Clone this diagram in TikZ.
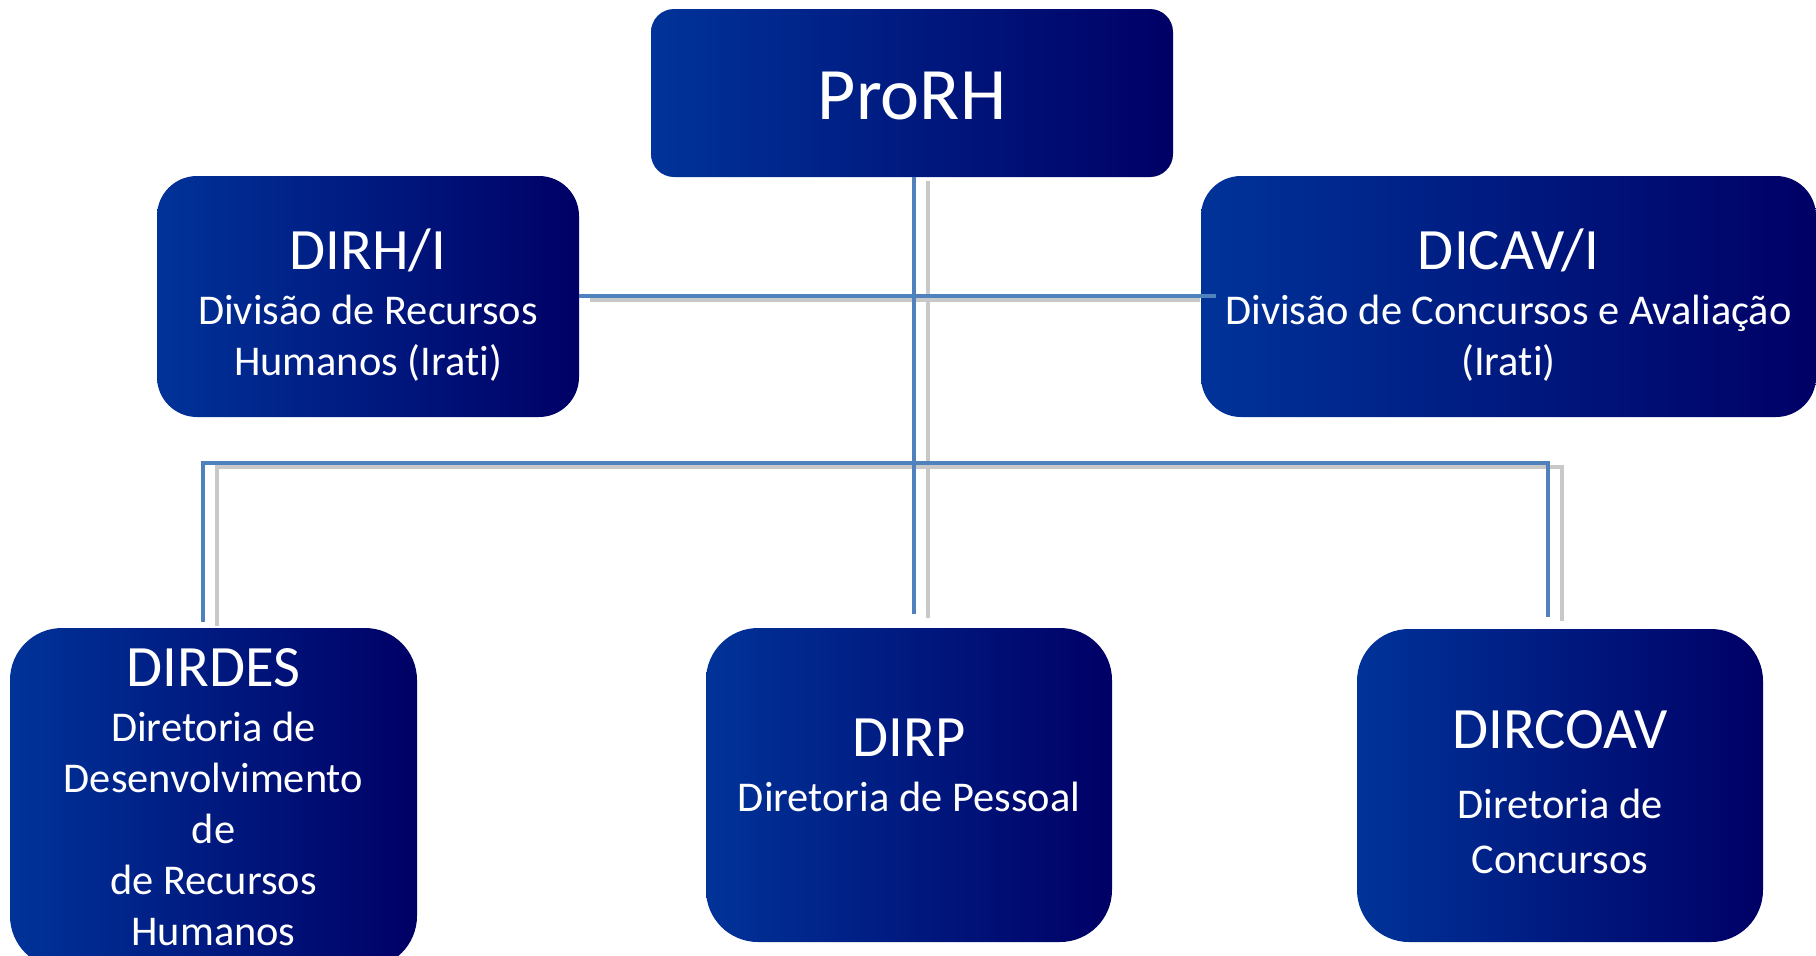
\documentclass[tikz,border=0pt]{standalone}
\usepackage{fontspec}
\setmainfont{Carlito}[Ligatures=NoCommon]
\usepackage{tikz}
\usetikzlibrary{positioning}
\usepackage{xcolor}

\definecolor{boxleft}{RGB}{0,51,153}
\definecolor{boxright}{RGB}{0,0,102}
\definecolor{linkblue}{RGB}{79,129,189}
\definecolor{linkgray}{RGB}{200,200,200}

\newcommand{\unittitle}{\fontsize{29.3}{34}\selectfont}
\newcommand{\unitsub}{\fontsize{21.2}{25.5}\selectfont}

\tikzset{
	unitbox/.style={inner sep=0pt, left color=boxleft, right color=boxright},
	unittext/.style={text=white, align=center, inner sep=0pt, anchor=north, font=\unitsub},
	linkline/.style={draw=linkblue, line width=2pt},
	linkshade/.style={draw=linkgray, line width=2pt}
}

\begin{document}
\begin{tikzpicture} [x=0.5pt, y=-0.5pt]
					\useasboundingbox (0, 0) rectangle (1816, 955);
					\clip (0, 0) rectangle (1816, 955);

					% boxes
					\node [unitbox, rounded corners=11.5pt, minimum width=261pt, minimum height=84pt] (prorh) at (912, 93) {};
					\node [unitbox, rounded corners=20pt, minimum width=211pt, minimum height=120.5pt] (dirhi) at (368, 296.5) {};
					\node [unitbox, rounded corners=20pt, minimum width=307.5pt, minimum height=120.5pt] (dicavi) at (1508.5, 296.5) {};
					\node [unitbox, rounded corners=26pt, minimum width=203.5pt, minimum height=170pt] (dirdes) at (213.5, 798) {};
					\node [unitbox, rounded corners=26pt, minimum width=203pt, minimum height=157pt] (dirp) at (909, 785) {};
					\node [unitbox, rounded corners=26pt, minimum width=203pt, minimum height=156.5pt] (dircoav) at (1560, 785.5) {};

					\coordinate (stem-t) at (914, 177);
					\coordinate (stem-b) at (914, 614);
					\coordinate (mid-r) at (1216, 296);
					\coordinate (drop-l) at (203, 622);
					\coordinate (bus-l) at (203, 463);
					\coordinate (bus-r) at (1548, 463);
					\coordinate (drop-r) at (1548, 617);

					% grey shade behind the links
					\draw [linkshade] (590, 300)--(1200, 300);
					\draw [linkshade] ([xshift=7pt, yshift=-2pt]stem-t)--([xshift=7pt, yshift=-2pt]stem-b);
					\draw [linkshade] ([xshift=7pt, yshift=-2pt]drop-l)--([xshift=7pt, yshift=-2pt]bus-l)--([xshift=7pt, yshift=-2pt]bus-r)--([xshift=7pt, yshift=-2pt]drop-r);

					% links
					\draw [linkline] (prorh.south -| stem-b)--(stem-b);
					\draw [linkline] (dirhi.east |- mid-r)--(mid-r);
					\draw [linkline] (drop-l)--(bus-l)--(bus-r)--(drop-r);

					% texts
					\node [unittext, font=\fontsize{37}{44}\selectfont] (prorh-t) at (912, 72) {ProRH};
					\node [unittext] (dirhi-t) at (368, 228) {{\unittitle DIRH/I}\\[2pt]Divisão de Recursos\\Humanos (Irati)};
					\node [unittext] (dicavi-t) at (1508.5, 228) {{\unittitle DICAV/I}\\[2pt]Divisão de Concursos e Avaliação\\(Irati)};
					\node [unittext] (dirdes-t) at (213.5, 648) {{\unittitle DIRDES}\\[2pt]Diretoria de\\Desenvolvimento\\de\\de Recursos\\Humanos};
					\node [unittext] (dirp-t) at (909, 718) {{\unittitle DIRP}\\[2pt]Diretoria de Pessoal};
					\node [unittext] (dircoav-t) at (1560, 710) {{\unittitle DIRCOAV}\\[9.5pt]Diretoria de\\[2pt]Concursos};
				\end{tikzpicture}
\end{document}
